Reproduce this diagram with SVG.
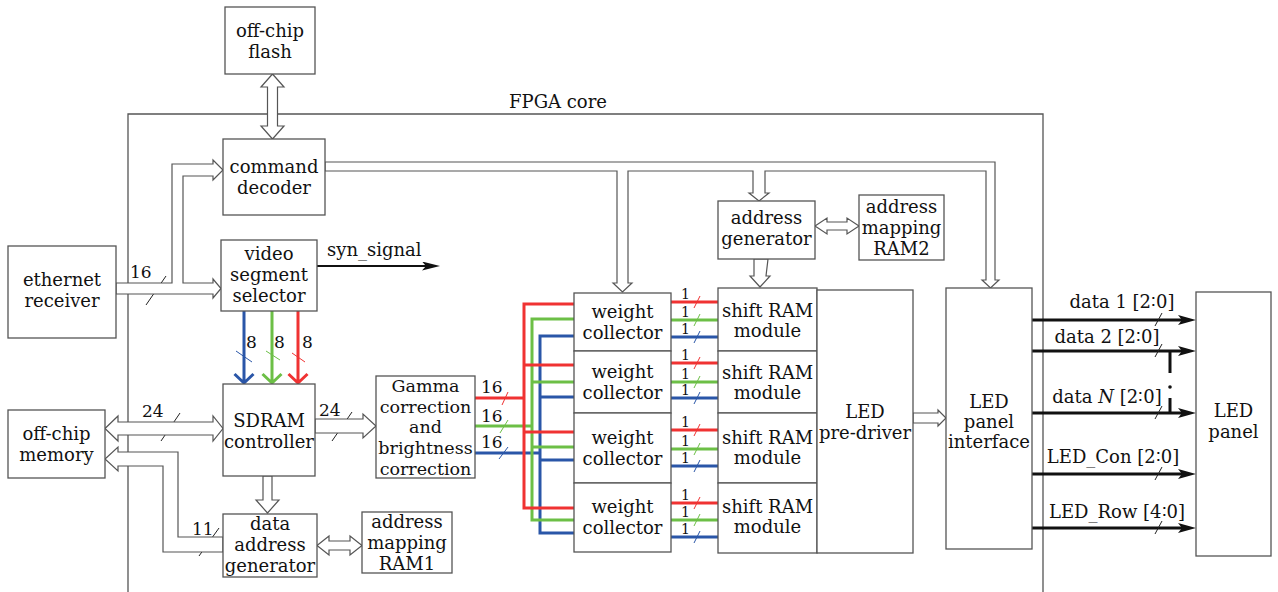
<svg xmlns="http://www.w3.org/2000/svg" width="1278" height="592" viewBox="0 0 1278 592">
<style>
.box{fill:#fff;stroke:#555;stroke-width:1.3}
.t{font-family:"DejaVu Serif","Liberation Serif",serif;font-size:18px;fill:#111;text-anchor:middle}
.l{font-family:"DejaVu Serif","Liberation Serif",serif;font-size:17px;fill:#111}
.one{font-family:"DejaVu Serif","Liberation Serif",serif;font-size:14px;fill:#111}
.ha{fill:#fff;stroke:#555;stroke-width:1.2;stroke-linejoin:miter}
.fr{fill:none;stroke:#555;stroke-width:1.3}
.r{stroke:#f03232;stroke-width:3;fill:none}
.g{stroke:#6cbf46;stroke-width:3;fill:none}
.b{stroke:#2a56a8;stroke-width:3;fill:none}
.rs{stroke:#f03232;stroke-width:1}
.gs{stroke:#6cbf46;stroke-width:1}
.bs{stroke:#2a56a8;stroke-width:1}
.ks{stroke:#222;stroke-width:1}
.bk{stroke:#111;stroke-width:3;fill:none}
</style>
<defs>
<marker id="ah" markerUnits="userSpaceOnUse" markerWidth="18" markerHeight="10" refX="4" refY="5" orient="auto"><path d="M0,0 L18,5 L0,10 L4,5 z" fill="#111"/></marker>
<marker id="ah2" markerUnits="userSpaceOnUse" markerWidth="18" markerHeight="9" refX="4" refY="4.5" orient="auto"><path d="M0,0 L18,4.5 L0,9 L4,4.5 z" fill="#111"/></marker>
</defs>
<rect width="1278" height="592" fill="#fff"/>
<g id="fpga-core">
<path class="fr" d="M128,592 V114 H1043 V592"/>
<text class="t" x="558" y="108">FPGA core</text>
</g>
<g id="connectors">
<line class="ks" x1="166" y1="276" x2="146" y2="305"/>
<line class="ks" x1="180" y1="413" x2="161" y2="441"/>
<line class="ks" x1="352" y1="412" x2="332" y2="441"/>
<line class="ks" x1="219" y1="528" x2="199" y2="556"/>
<polygon class="ha" points="272.5,74 284,87 277.5,87 277.5,126 284,126 272.5,139 261,126 267.5,126 267.5,87 261,87"/>
<polygon class="ha" points="116,283 172,283 172,164 213,164 213,160 223,170 213,180 213,176 183,176 183,283 213,283 213,279 221,288.5 213,298 213,294 116,294"/>
<polygon class="ha" points="105,428.5 118,416 118,422 213,422 213,416 223,428.5 213,441 213,435 118,435 118,441"/>
<polygon class="ha" points="315,419 363,419 363,414 376,426 363,438 363,433 315,433"/>
<polygon class="ha" points="263,476 272,476 272,500 279,500 267.5,513 256,500 263,500"/>
<polygon class="ha" points="317,545.5 329,536 329,541 350,541 350,536 362,545.5 350,555 350,550 329,550 329,555"/>
<polygon class="ha" points="223,537 178,537 178,452 118,452 118,447 105,459 118,471 118,466 163,466 163,552 223,552"/>
<polygon class="ha" points="325,162 995,162 995,280 999,280 990.5,288 982,280 986,280 986,171 765,171 765,193 769,193 759,201 749,193 753,193 753,171 628,171 628,283 632,283 622.5,292 613,283 617,283 617,171 325,171"/>
<polygon class="ha" points="754,259 768,259 766,276 770,276 760,287 750,276 754,276"/>
<polygon class="ha" points="815,226 827,218 827,222 847,222 847,218 859,226 847,234 847,230 827,230 827,234"/>
<polygon class="ha" points="913,413 938,413 938,410 946,418 938,426 938,423 913,423"/>
<line x1="317" y1="266" x2="426" y2="266" stroke="#111" stroke-width="2" marker-end="url(#ah2)"/>
<path class="b" d="M244,311 V382 M234.5,374 L244,383 L253.5,374"/>
<path class="g" d="M272,311 V382 M262.5,374 L272,383 L281.5,374"/>
<path class="r" d="M298,311 V382 M288.5,374 L298,383 L307.5,374"/>
<line class="bs" x1="236" y1="351" x2="252" y2="362"/>
<line class="gs" x1="266" y1="351" x2="280" y2="360"/>
<line class="rs" x1="292" y1="353" x2="305" y2="362"/>
<path class="b" d="M475,453 H540 M574,336 H540 V533 H574 M540,397 H574 M540,460 H574"/>
<path class="g" d="M475,426 H532 M574,319 H532 V520 H574 M532,382 H574 M532,447 H574"/>
<path class="r" d="M475,398 H524 M574,304 H524 V508 H574 M524,365 H574 M524,432 H574"/>
<line class="rs" x1="508" y1="392" x2="502" y2="405"/>
<line class="gs" x1="508" y1="420" x2="500" y2="433"/>
<line class="bs" x1="508" y1="447" x2="499" y2="459"/>
<path class="r" d="M671,302 H718 M671,363 H718 M671,430 H718 M671,503 H718"/>
<path class="g" d="M671,320 H718 M671,382 H718 M671,449 H718 M671,520 H718"/>
<path class="b" d="M671,337 H718 M671,398 H718 M671,466 H718 M671,537 H718"/>
<path class="rs" d="M700,296 L694,308 M700,357 L694,369 M700,424 L694,436 M700,497 L694,509"/>
<path class="gs" d="M700,314 L694,326 M700,376 L694,388 M700,443 L694,455 M700,514 L694,526"/>
<path class="bs" d="M700,331 L694,343 M700,392 L694,404 M700,460 L694,472 M700,531 L694,543"/>
<g class="l">
<text x="130" y="278">16</text>
<text x="142" y="417">24</text>
<text x="319" y="416">24</text>
<text x="192" y="535">11</text>
<text x="246" y="348">8</text>
<text x="274" y="348">8</text>
<text x="302" y="348">8</text>
<text x="481" y="393">16</text>
<text x="481" y="422">16</text>
<text x="481" y="448">16</text>
</g>
<g class="one">
<text x="681" y="299">1</text><text x="681" y="317">1</text><text x="681" y="334">1</text>
<text x="681" y="360">1</text><text x="681" y="379">1</text><text x="681" y="395">1</text>
<text x="681" y="427">1</text><text x="681" y="446">1</text><text x="681" y="463">1</text>
<text x="681" y="500">1</text><text x="681" y="517">1</text><text x="681" y="534">1</text>
</g>
<text class="l" x="327" y="256" style="font-size:18px">syn_signal</text>
<line class="bk" x1="1032" y1="320" x2="1182" y2="320" marker-end="url(#ah)"/>
<line class="bk" x1="1032" y1="351" x2="1182" y2="351" marker-end="url(#ah)"/>
<line class="bk" x1="1032" y1="413" x2="1182" y2="413" marker-end="url(#ah)"/>
<line class="bk" x1="1032" y1="474" x2="1182" y2="474" marker-end="url(#ah)"/>
<line class="bk" x1="1032" y1="528" x2="1182" y2="528" marker-end="url(#ah)"/>
<path class="ks" d="M1162,313 L1155,326 M1162,344 L1155,357 M1162,406 L1155,419 M1162,467 L1155,480 M1162,521 L1155,534"/>
<line x1="1170" y1="352" x2="1170" y2="373" stroke="#111" stroke-width="3"/>
<circle cx="1170" cy="387" r="1.8" fill="#111"/>
<line x1="1170" y1="398" x2="1170" y2="413" stroke="#111" stroke-width="3"/>
<text class="t" x="1122" y="308">data 1 [2∶0]</text>
<text class="t" x="1107" y="343">data 2 [2∶0]</text>
<text class="t" x="1107" y="403">data <tspan font-style="italic">N</tspan> [2∶0]</text>
<text class="t" x="1113" y="463">LED_Con [2∶0]</text>
<text class="t" x="1117" y="518">LED_Row [4∶0]</text>
</g>
<g id="off-chip-flash"><rect class="box" x="225" y="7" width="90" height="67"/><text class="t"><tspan x="270" y="37">off-chip</tspan><tspan x="270" y="58">flash</tspan></text></g>
<g id="command-decoder"><rect class="box" x="223" y="139" width="102" height="76"/><text class="t"><tspan x="274" y="173">command</tspan><tspan x="274" y="194">decoder</tspan></text></g>
<g id="video-segment-selector"><rect class="box" x="221" y="240" width="96" height="71"/><text class="t"><tspan x="269" y="260">video</tspan><tspan x="269" y="281">segment</tspan><tspan x="269" y="302">selector</tspan></text></g>
<g id="ethernet-receiver"><rect class="box" x="8" y="246" width="108" height="92"/><text class="t"><tspan x="62" y="286">ethernet</tspan><tspan x="62" y="307">receiver</tspan></text></g>
<g id="off-chip-memory"><rect class="box" x="8" y="410" width="97" height="68"/><text class="t"><tspan x="56.5" y="440">off-chip</tspan><tspan x="56.5" y="461">memory</tspan></text></g>
<g id="sdram-controller"><rect class="box" x="223" y="384" width="92" height="92"/><text class="t"><tspan x="269" y="427">SDRAM</tspan><tspan x="269" y="448">controller</tspan></text></g>
<g id="data-address-generator"><rect class="box" x="223" y="514" width="94" height="63"/><text class="t"><tspan x="270" y="530">data</tspan><tspan x="270" y="551">address</tspan><tspan x="270" y="572">generator</tspan></text></g>
<g id="address-mapping-ram1"><rect class="box" x="362" y="512" width="90" height="61"/><text class="t"><tspan x="407" y="528">address</tspan><tspan x="407" y="549">mapping</tspan><tspan x="407" y="570">RAM1</tspan></text></g>
<g id="gamma-correction"><rect class="box" x="376" y="376" width="99" height="102"/><text class="t" style="font-size:17.5px"><tspan x="425.5" y="392">Gamma</tspan><tspan x="425.5" y="413">correction</tspan><tspan x="425.5" y="433">and</tspan><tspan x="425.5" y="454">brightness</tspan><tspan x="425.5" y="475">correction</tspan></text></g>
<g id="address-generator"><rect class="box" x="718" y="201" width="97" height="58"/><text class="t"><tspan x="766.5" y="224">address</tspan><tspan x="766.5" y="245">generator</tspan></text></g>
<g id="address-mapping-ram2"><rect class="box" x="859" y="195" width="85" height="65"/><text class="t"><tspan x="901.5" y="213">address</tspan><tspan x="901.5" y="234">mapping</tspan><tspan x="901.5" y="255">RAM2</tspan></text></g>
<g id="weight-collector-1"><rect class="box" x="574" y="293" width="97" height="58"/><text class="t"><tspan x="622.5" y="318">weight</tspan><tspan x="622.5" y="339">collector</tspan></text></g>
<g id="weight-collector-2"><rect class="box" x="574" y="351" width="97" height="62"/><text class="t"><tspan x="622.5" y="378">weight</tspan><tspan x="622.5" y="399">collector</tspan></text></g>
<g id="weight-collector-3"><rect class="box" x="574" y="413" width="97" height="70"/><text class="t"><tspan x="622.5" y="444">weight</tspan><tspan x="622.5" y="465">collector</tspan></text></g>
<g id="weight-collector-4"><rect class="box" x="574" y="483" width="97" height="69"/><text class="t"><tspan x="622.5" y="513">weight</tspan><tspan x="622.5" y="534">collector</tspan></text></g>
<g id="shift-ram-1"><rect class="box" x="718" y="288" width="99" height="63"/><text class="t"><tspan x="767.5" y="317">shift RAM</tspan><tspan x="767.5" y="337">module</tspan></text></g>
<g id="shift-ram-2"><rect class="box" x="718" y="351" width="99" height="62"/><text class="t"><tspan x="767.5" y="379">shift RAM</tspan><tspan x="767.5" y="399">module</tspan></text></g>
<g id="shift-ram-3"><rect class="box" x="718" y="413" width="99" height="70"/><text class="t"><tspan x="767.5" y="444">shift RAM</tspan><tspan x="767.5" y="464">module</tspan></text></g>
<g id="shift-ram-4"><rect class="box" x="718" y="483" width="99" height="70"/><text class="t"><tspan x="767.5" y="513">shift RAM</tspan><tspan x="767.5" y="533">module</tspan></text></g>
<g id="led-pre-driver"><rect class="box" x="817" y="290" width="96" height="263"/><text class="t"><tspan x="865" y="418">LED</tspan><tspan x="865" y="439">pre-driver</tspan></text></g>
<g id="led-panel-interface"><rect class="box" x="946" y="288" width="86" height="261"/><text class="t"><tspan x="989" y="408">LED</tspan><tspan x="989" y="428">panel</tspan><tspan x="989" y="448">interface</tspan></text></g>
<g id="led-panel"><rect class="box" x="1196" y="292" width="75" height="264"/><text class="t"><tspan x="1233.5" y="417">LED</tspan><tspan x="1233.5" y="438">panel</tspan></text></g>
</svg>
